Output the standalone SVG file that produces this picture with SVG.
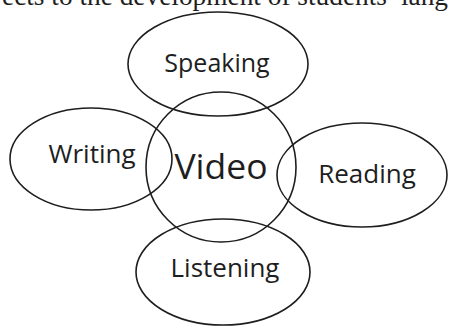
<svg xmlns="http://www.w3.org/2000/svg" width="449" height="327" viewBox="0 0 449 327">
<style>
.shape{fill:none;stroke:#1e1e1e;stroke-width:1.6}
.lbl{font-family:"Open Sans","Liberation Sans",sans-serif;fill:#1e1e1e;text-anchor:middle;font-size:26px}
.cap{font-family:"Liberation Serif","Times New Roman",serif;fill:#1e1e1e;font-size:28px}
</style>
<rect width="449" height="327" fill="#ffffff"/>
<text class="cap" x="2" y="5" textLength="446" lengthAdjust="spacingAndGlyphs">ects to the development of students’ lang</text>
<g id="video"><circle class="shape" cx="221" cy="167" r="75"/><text class="lbl" x="221" y="179" font-size="35.5" style="font-size:35.5px">Video</text></g>
<g id="speaking"><ellipse class="shape" cx="218" cy="64" rx="90" ry="52"/><text class="lbl" x="217" y="72" style="font-size:25px">Speaking</text></g>
<g id="writing"><ellipse class="shape" cx="91" cy="159" rx="81" ry="51"/><text class="lbl" x="92" y="163">Writing</text></g>
<g id="reading"><ellipse class="shape" cx="362" cy="175" rx="85" ry="52"/><text class="lbl" x="367" y="183">Reading</text></g>
<g id="listening"><ellipse class="shape" cx="223" cy="272" rx="87" ry="53"/><text class="lbl" x="225" y="277">Listening</text></g>
<g id="connectors"></g>
</svg>
